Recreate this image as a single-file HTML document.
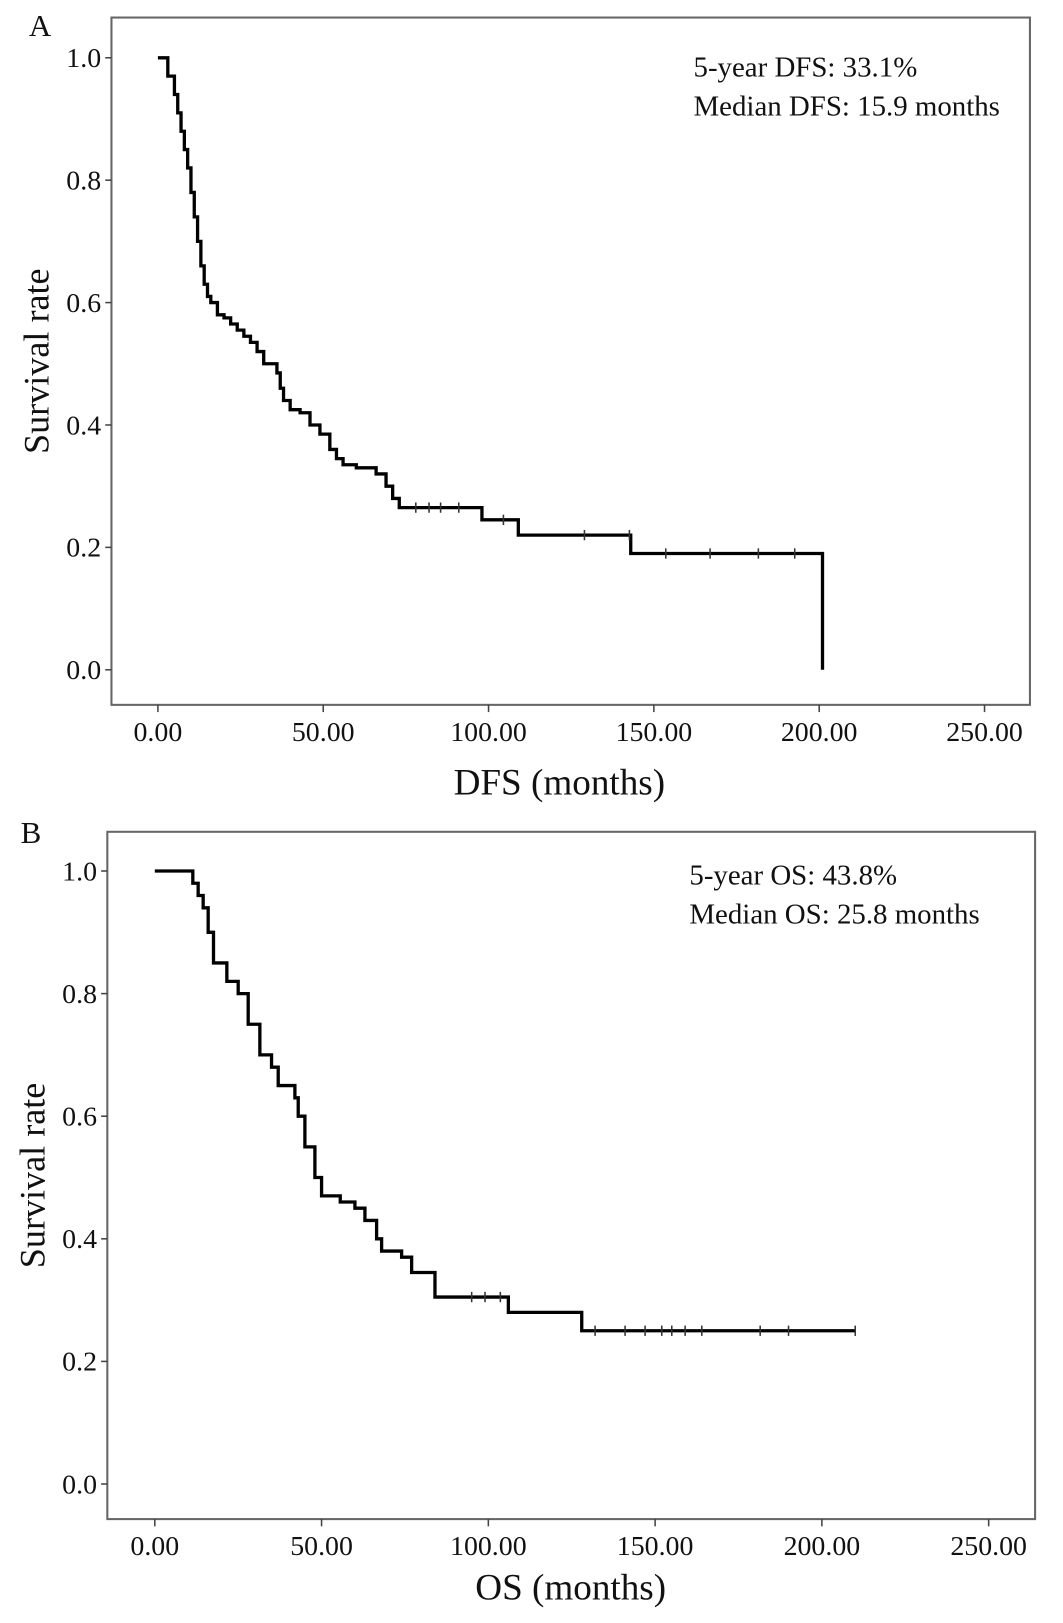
<!DOCTYPE html>
<html><head><meta charset="utf-8"><style>
body{margin:0;background:#fff;overflow:hidden;}
svg text{font-family:"Liberation Serif",serif;fill:#111;}
</style></head><body>
<svg width="1063" height="1618" viewBox="0 0 1063 1618" xmlns="http://www.w3.org/2000/svg"><g id="chart" transform="scale(1.032)"></g></svg>
<script>
const xTicks=[0,50,100,150,200,250];
const xTickLabels=["0.00","50.00","100.00","150.00","200.00","250.00"];
const yTicks=[0,0.2,0.4,0.6,0.8,1.0];
const yTickLabels=["0.0","0.2","0.4","0.6","0.8","1.0"];
const dfsTimes=[3,5,6,7,8,9,10,11,12,13,14,15,16,18,20,22,24,26,28,30,32,36,37,38,40,43,46,49,52,54,56,60,66,69,71,73,77,98,109,143,201];
const dfsSurv=[.97,.94,.91,.88,.85,.82,.78,.74,.70,.66,.63,.61,.60,.58,.575,.565,.555,.545,.535,.52,.50,.485,.46,.44,.425,.42,.40,.385,.36,.345,.335,.33,.32,.30,.28,.265,.265,.245,.22,.19,0];
const dfsCensor=[78,82,85.5,91,104.5,129,142.6,153.6,167,181.6,192.6];
const osTimes=[11.4,13,14.5,16,17.6,21.6,25,28,31.5,35,37,42,43,45,48,50,55.6,60,63,66.5,68,74,77,84,106,128];
const osSurv=[.98,.96,.94,.90,.85,.82,.80,.75,.70,.68,.65,.63,.60,.55,.50,.47,.46,.45,.43,.40,.38,.37,.345,.305,.28,.25];
const osEnd=210;
const osCensor=[95,99,103.6,132,141,147,152,155,159,164,181.5,190,210];
const NS="http://www.w3.org/2000/svg";
const svg=document.getElementById('chart');
function mk(tag,attrs,parent){const e=document.createElementNS(NS,tag);for(const k in attrs)e.setAttribute(k,attrs[k]);(parent||svg).appendChild(e);return e;}
function panel(cfg){
  const g=mk('g',{});
  
  
  const X=t=>cfg.x0+t*(cfg.x250-cfg.x0)/250;
  const Y=s=>cfg.y0-s*(cfg.y0-cfg.y1);
  const box=mk('rect',{x:cfg.L,y:cfg.T,width:cfg.R-cfg.L,height:cfg.B-cfg.T,fill:'none',stroke:'#666','stroke-width':2},g);
  
  
  yTicks.forEach((v,i)=>{
    mk('line',{x1:cfg.L-6,x2:cfg.L,y1:Y(v),y2:Y(v),stroke:'#444','stroke-width':1.5},g);
    const t=mk('text',{x:cfg.L-10,y:Y(v)+9,'text-anchor':'end','font-size':27},g);t.textContent=yTickLabels[i];
    
    
  });
  xTicks.forEach((v,i)=>{
    mk('line',{x1:X(v),x2:X(v),y1:cfg.B,y2:cfg.B+7,stroke:'#444','stroke-width':1.5},g);
    const t=mk('text',{x:X(v),y:cfg.B+35,'text-anchor':'middle','font-size':27},g);t.textContent=xTickLabels[i];
    
    
  });
  let d='M'+X(0)+','+Y(1);let prev=1;
  cfg.times.forEach((t,i)=>{d+=' L'+X(t)+','+Y(prev)+' L'+X(t)+','+Y(cfg.surv[i]);prev=cfg.surv[i];});
  if(cfg.end!==undefined)d+=' L'+X(cfg.end)+','+Y(prev);
  const p=mk('path',{d:d,fill:'none',stroke:'#000','stroke-width':3.2},g);
  
  
  const survAt=t=>{let s=1;cfg.times.forEach((tt,i)=>{if(tt<=t)s=cfg.surv[i];});return s;};
  cfg.censor.forEach(t=>{
    let s=survAt(t);if(s===0)s=cfg.surv[cfg.surv.length-2];
    const c=mk('path',{d:'M'+X(t)+','+(Y(s)-5)+' v10',stroke:'#333','stroke-width':1.5},g);
    
    
  });
  const lab=mk('text',{x:cfg.lx,y:cfg.ly,'font-size':30},g);lab.textContent=cfg.letter;
  
  
  const yt=mk('text',{x:0,y:0,'font-size':35,'text-anchor':'middle',transform:'translate('+cfg.ytx+','+((cfg.T+cfg.B)/2)+') rotate(-90)'},g);yt.textContent='Survival rate';
  
  
  const xt=mk('text',{x:cfg.xtx,y:cfg.xty,'font-size':36,'text-anchor':'middle'},g);xt.textContent=cfg.xtitle;
  
  
  cfg.notes.forEach((n,i)=>{
    const t=mk('text',{x:cfg.nx,y:cfg.ny+i*38,'font-size':28},g);t.textContent=n;
    
    
  });
}
panel({name:'panel-a-dfs',L:108,T:17,R:998,B:683,x0:153,x250:954,y0:649,y1:56,times:dfsTimes,surv:dfsSurv,censor:dfsCensor,
  letter:'A',lx:28,ly:35,ytx:47,xtitle:'DFS (months)',xtx:542,xty:770,notes:['5-year DFS: 33.1%','Median DFS: 15.9 months'],nx:672,ny:74});
panel({name:'panel-b-os',L:104,T:806,R:1003,B:1472,x0:150,x250:958,y0:1438,y1:844,times:osTimes,surv:osSurv,end:osEnd,censor:osCensor,
  letter:'B',lx:20,ly:817,ytx:43,xtitle:'OS (months)',xtx:553,xty:1550,notes:['5-year OS: 43.8%','Median OS: 25.8 months'],nx:668,ny:857});
</script>
</body></html>
